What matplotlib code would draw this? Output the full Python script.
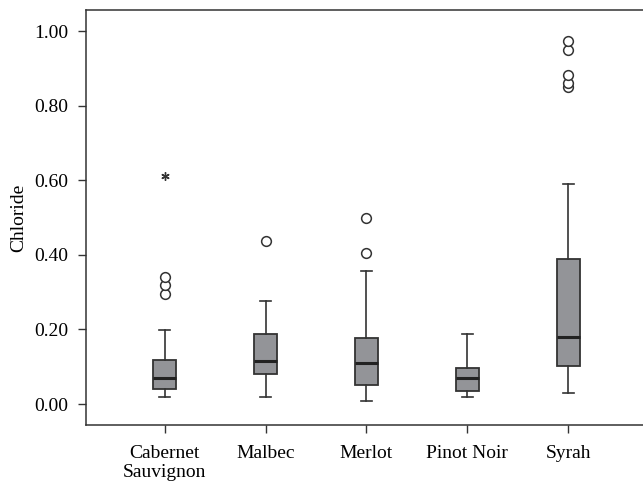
import matplotlib.pyplot as plt

# DATA
categories = ["Cabernet\nSauvignon", "Malbec", "Merlot", "Pinot Noir", "Syrah"]
q1 = [0.040, 0.080, 0.050, 0.034, 0.103]
medians = [0.070, 0.116, 0.109, 0.069, 0.179]
q3 = [0.118, 0.188, 0.176, 0.097, 0.388]
whisk_lo = [0.019, 0.019, 0.008, 0.019, 0.029]
whisk_hi = [0.198, 0.277, 0.357, 0.188, 0.589]
outliers = [
    [0.294, 0.318, 0.341],
    [0.438],
    [0.405, 0.499],
    [],
    [0.849, 0.860, 0.882, 0.949, 0.972],
]
extremes = [[0.612], [], [], [], []]
y_ticks = [0.0, 0.2, 0.4, 0.6, 0.8, 1.0]

# STYLE
plt.rcParams["font.family"] = ["Liberation Serif", "DejaVu Serif"]
LINE = "#333333"
FILL = "#939498"

fig = plt.figure(figsize=(6.43, 4.82), dpi=100)
ax = fig.add_axes([86 / 643, 57 / 482, 561 / 643, 414.5 / 482])

stats = []
for i in range(len(categories)):
    stats.append({
        "med": medians[i], "q1": q1[i], "q3": q3[i],
        "whislo": whisk_lo[i], "whishi": whisk_hi[i],
        "fliers": outliers[i],
    })

positions = list(range(1, len(categories) + 1))
ax.bxp(
    stats, positions=positions, widths=0.225, patch_artist=True,
    boxprops=dict(facecolor=FILL, edgecolor=LINE, linewidth=1.3),
    medianprops=dict(color="#222222", linewidth=2.2),
    whiskerprops=dict(color=LINE, linewidth=1.2),
    capprops=dict(color=LINE, linewidth=1.2),
    capwidths=0.11,
    flierprops=dict(marker="o", markersize=7, markerfacecolor="white",
                    markeredgecolor=LINE, markeredgewidth=1.1, linestyle="none"),
)

# extreme values drawn with an asterisk
for pos, vals in zip(positions, extremes):
    ax.plot([pos] * len(vals), vals, linestyle="none", marker=(6, 2, 0),
            markersize=6, markeredgewidth=1.0, color=LINE)

ax.set_xlim(0.22, 5.78)
ax.set_ylim(-0.0563, 1.055)
ax.set_yticks(y_ticks)
ax.set_yticklabels([f"{v:.2f}" for v in y_ticks])
ax.set_xticks(positions)
ax.set_xticklabels(categories, linespacing=1.15)
ax.set_ylabel("Chloride", fontsize=14, labelpad=5)

ax.tick_params(axis="both", labelsize=14, color=LINE, length=5.5, width=1)
ax.tick_params(axis="x", pad=9)
ax.tick_params(axis="y", pad=7)
for side in ["left", "bottom", "top", "right"]:
    ax.spines[side].set_color(LINE)
    ax.spines[side].set_linewidth(1.1)

fig.savefig("out.png", dpi=100)
